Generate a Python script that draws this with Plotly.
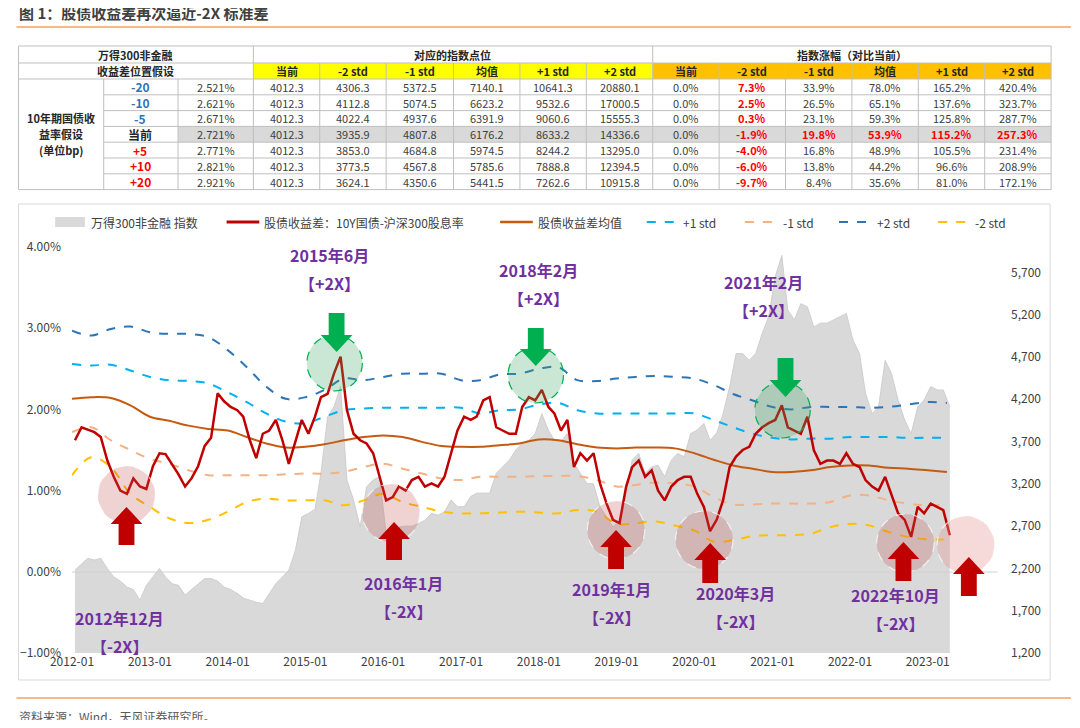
import pandas as pd
import plotly.graph_objects as go

# ---------------- data ----------------
spread = [1.62,1.78,1.75,1.72,1.66,1.37,1.17,1.00,0.96,1.15,1.05,1.02,
          1.30,1.46,1.45,1.33,1.20,1.05,1.15,1.30,1.55,1.65,2.20,2.10,
          2.03,1.99,1.91,1.62,1.40,1.70,1.74,1.87,1.62,1.33,1.62,1.87,
          1.70,1.91,2.15,2.19,2.44,2.65,1.99,1.70,1.62,1.58,1.46,1.17,
          0.88,0.92,1.05,1.00,1.13,1.17,1.05,1.09,1.05,1.17,1.46,1.74,
          1.91,1.87,1.91,2.11,2.15,1.78,1.74,1.70,1.70,2.03,2.15,2.11,
          2.24,2.03,1.95,1.74,1.87,1.29,1.46,1.37,1.46,1.09,0.84,0.64,
          0.60,1.05,1.29,1.37,1.17,1.25,1.00,0.88,1.05,1.13,1.17,1.17,
          0.96,0.80,0.50,0.64,0.88,1.29,1.42,1.50,1.54,1.70,1.78,1.83,
          1.87,2.05,1.78,1.74,1.70,1.91,1.50,1.33,1.37,1.37,1.33,1.46,
          1.33,1.29,1.13,1.05,1.00,1.17,0.96,0.72,0.64,0.43,0.80,0.72,
          0.84,0.80,0.76,0.45]
index_lvl = [2180,2250,2320,2300,2320,2200,2100,2050,1980,1950,1825,2000,
             2100,2200,2100,2020,2000,1885,1950,2020,2080,2080,2050,1980,
             1950,1905,1850,1825,1800,1785,1900,2020,2100,2180,2415,2810,
             2850,2900,3325,3990,4110,4350,3245,3010,2690,3165,3245,3285,
             2615,2455,2690,2700,2700,2730,2770,2850,2830,2870,3010,2930,
             2930,3050,3090,3090,3090,3325,3400,3480,3600,3680,3715,3795,
             4030,3835,3715,3700,3795,3440,3325,3205,3200,2930,2810,2690,
             2770,3085,3480,3560,3325,3400,3420,3285,3480,3560,3520,3795,
             3835,3915,3715,3800,4030,4350,4740,4740,4660,4740,4980,5175,
             5650,5900,5255,5140,5330,5295,5055,5100,5100,5140,5175,5215,
             4900,4740,4270,4030,4110,4660,4505,4190,3955,3795,4110,4190,
             4350,4310,4310,4110]
mean_q = [2.13,2.15,2.14,2.05, 1.91,1.86,1.80,1.76, 1.74,1.66,1.58,1.53,
          1.54,1.57,1.62,1.66, 1.68,1.66,1.60,1.55, 1.54,1.54,1.56,1.58,
          1.63,1.62,1.57,1.53, 1.52,1.53,1.53,1.52, 1.46,1.38,1.31,1.27,
          1.23,1.23,1.25,1.29, 1.31,1.31,1.28,1.27, 1.25,1.23]
p2_q = [2.97,2.91,2.99,3.02, 2.95,2.93,2.93,2.89, 2.73,2.52,2.28,2.13,
        2.15,2.24,2.38,2.36, 2.40,2.44,2.44,2.44, 2.36,2.36,2.43,2.44,
        2.50,2.52,2.36,2.35, 2.38,2.40,2.41,2.40, 2.38,2.30,2.19,2.11,
        2.03,2.00,2.03,2.03, 2.03,2.02,2.03,2.06, 2.09,2.08]
p1_q = [2.56,2.54,2.55,2.48, 2.40,2.36,2.35,2.32, 2.21,2.09,1.95,1.85,
        1.83,1.91,1.99,2.01, 2.02,2.02,2.02,2.02, 2.02,1.95,1.99,2.00,
        2.06,2.08,1.99,1.95, 1.95,1.95,1.95,1.95, 1.95,1.87,1.78,1.70,
        1.65,1.63,1.64,1.64, 1.66,1.66,1.66,1.65, 1.65,1.65]
m1_q = [1.72,1.78,1.62,1.50, 1.39,1.33,1.25,1.19, 1.19,1.19,1.19,1.20,
        1.21,1.21,1.23,1.29, 1.33,1.27,1.21,1.15, 1.13,1.17,1.17,1.17,
        1.18,1.18,1.18,1.13, 1.05,1.07,1.10,1.09, 1.05,0.92,0.83,0.83,
        0.84,0.84,0.84,0.86, 0.94,0.94,0.88,0.84, 0.82,0.82]
m2_q = [1.19,1.41,1.29,0.96, 0.80,0.66,0.60,0.64, 0.74,0.86,0.90,0.88,
        0.88,0.88,0.82,0.88, 0.96,0.86,0.80,0.74, 0.72,0.72,0.73,0.74,
        0.73,0.72,0.76,0.74, 0.59,0.60,0.62,0.57, 0.51,0.37,0.39,0.44,
        0.45,0.45,0.47,0.55, 0.59,0.57,0.49,0.43, 0.40,0.40]

months = pd.date_range("2012-01-01", periods=len(spread), freq="MS") + pd.Timedelta(days=14)
quarters = pd.date_range("2012-01-01", periods=len(mean_q), freq="QS")

# table data
bp_labels = ["-20", "-10", "-5", "当前", "+5", "+10", "+20"]
yields = ["2.521%", "2.621%", "2.671%", "2.721%", "2.771%", "2.821%", "2.921%"]
col_heads = ["当前", "-2 std", "-1 std", "均值", "+1 std", "+2 std"]
lvl_cur = ["4012.3"] * 7
lvl_m2 = ["4306.3", "4112.8", "4022.4", "3935.9", "3853.0", "3773.5", "3624.1"]
lvl_m1 = ["5372.5", "5074.5", "4937.6", "4807.8", "4684.8", "4567.8", "4350.6"]
lvl_mean = ["7140.1", "6623.2", "6391.9", "6176.2", "5974.5", "5785.6", "5441.5"]
lvl_p1 = ["10641.3", "9532.6", "9060.6", "8633.2", "8244.2", "7888.8", "7262.6"]
lvl_p2 = ["20880.1", "17000.5", "15555.3", "14336.6", "13295.0", "12394.5", "10915.8"]
chg_cur = ["0.0%"] * 7
chg_m2 = ["7.3%", "2.5%", "0.3%", "-1.9%", "-4.0%", "-6.0%", "-9.7%"]
chg_m1 = ["33.9%", "26.5%", "23.1%", "19.8%", "16.8%", "13.8%", "8.4%"]
chg_mean = ["78.0%", "65.1%", "59.3%", "53.9%", "48.9%", "44.2%", "35.6%"]
chg_p1 = ["165.2%", "137.6%", "125.8%", "115.2%", "105.5%", "96.6%", "81.0%"]
chg_p2 = ["420.4%", "323.7%", "287.7%", "257.3%", "231.4%", "208.9%", "172.1%"]

# ---------------- layout helpers ----------------
OFF = 8                      # page body margin
W, H = 1064, 712
L, R, T, B = 56, 944, 239, 645   # plot area in figure pixels
def px(x): return (x - OFF - L) / (R - L)   # x given in page pixels
def py(y): return (B - (y - OFF)) / (B - T)

FONT = "Noto Sans CJK SC, sans-serif"
GREY_TXT = "#404040"
fig = go.Figure()

fig.add_trace(go.Scatter(x=months, y=index_lvl, yaxis="y", mode="lines",
                         line=dict(color="#c8c8c8", width=0.8), fill="tozeroy",
                         fillcolor="#d9d9d9", hoverinfo="skip"))
bands = [(p2_q, "#2e75b6"), (p1_q, "#00b0f0"), (m1_q, "#f4b183"), (m2_q, "#ffc000")]
for vals, col in bands:
    fig.add_trace(go.Scatter(x=quarters, y=vals, yaxis="y2", mode="lines", line_shape="spline",
                             line=dict(color=col, width=2, dash="dash")))
fig.add_trace(go.Scatter(x=quarters, y=mean_q, yaxis="y2", mode="lines", line_shape="spline",
                         line=dict(color="#c55a11", width=2)))
fig.add_trace(go.Scatter(x=months, y=spread, yaxis="y2", mode="lines",
                         line=dict(color="#c00000", width=2.5)))

shapes, anns = [], []
def line(x0, y0, x1, y1, color, width=1, dash=None):
    shapes.append(dict(type="line", xref="paper", yref="paper", x0=px(x0), x1=px(x1),
                       y0=py(y0), y1=py(y1), line=dict(color=color, width=width, dash=dash)))
def rect(x0, y0, x1, y1, fill, lc=None, lw=0, layer="above"):
    shapes.append(dict(type="rect", xref="paper", yref="paper", x0=px(x0), x1=px(x1),
                       y0=py(y0), y1=py(y1), fillcolor=fill, layer=layer,
                       line=dict(color=lc or "rgba(0,0,0,0)", width=lw)))
def text(x, y, s, size=11, color=GREY_TXT, bold=False, xanchor="center"):
    if bold:
        s = "<b>" + s + "</b>"
    anns.append(dict(xref="paper", yref="paper", x=px(x), y=py(y), text=s, showarrow=False,
                     xanchor=xanchor, yanchor="middle", font=dict(size=size, color=color, family=FONT)))

# title and frame
text(8, 13, "图 1：股债收益差再次逼近-2X 标准差", size=15, color="#404040", bold=True, xanchor="left")
line(OFF, 27, W + OFF, 27, "#f4a261", 1.5)
line(OFF, 698, W + OFF, 698, "#f4a261", 1.5)
text(8, 716, "资料来源：Wind，天风证券研究所。", size=12, color="#595959", xanchor="left")
rect(10, 204, 1051, 680, "rgba(0,0,0,0)", "#d9d9d9", 1, layer="below")

# ---------------- table ----------------
cols = [10, 96, 171, 247, 314, 381, 449, 516, 583, 650, 717, 784, 851, 918, 985, 1052]
r0, r1, r2 = 46, 63, 79
rh = 15.8
rows = [r2 + i * rh for i in range(8)]
rect(247, r1, 650, r2, "#ffff00")
rect(650, r1, 1052, r2, "#ffc000")
rect(171, rows[3], 1052, rows[4], "#d9d9d9")
bc = "#bfbfbf"
line(10, r0, 1052, r0, bc); line(10, r1, 1052, r1, bc); line(10, r2, 1052, r2, bc)
for i in range(1, 8):
    line(96 if i < 7 else 10, rows[i], 1052, rows[i], bc)
for c in [10, 247, 650, 1052]:
    line(c, r0, c, rows[7], bc)
for c in [96, 171]:
    line(c, r2, c, rows[7], bc)
for c in cols[4:-1]:
    if c != 650:
        line(c, r1, c, rows[7], bc)
text(128, (r0 + r1) / 2, "万得300非金融", bold=True, color="#262626")
text(128, (r1 + r2) / 2, "收益差位置假设", bold=True, color="#262626")
text(448, (r0 + r1) / 2, "对应的指数点位", bold=True, color="#262626")
text(851, (r0 + r1) / 2, "指数涨幅（对比当前）", bold=True, color="#262626")
for j, h in enumerate(col_heads * 2):
    cx = (cols[3 + j] + cols[4 + j]) / 2
    text(cx, (r1 + r2) / 2, h, bold=True, color="#262626", size=11)
mid = (rows[0] + rows[7]) / 2
text(53, mid - 16, "10年期国债收", bold=True, color="#262626")
text(53, mid, "益率假设", bold=True, color="#262626")
text(53, mid + 16, "(单位bp)", bold=True, color="#262626")
lvl_cols = [lvl_cur, lvl_m2, lvl_m1, lvl_mean, lvl_p1, lvl_p2]
chg_cols = [chg_cur, chg_m2, chg_m1, chg_mean, chg_p1, chg_p2]
for i in range(7):
    cy = (rows[i] + rows[i + 1]) / 2
    lab = bp_labels[i]
    lc = "#2e75b6" if lab.startswith("-") else ("#ff0000" if lab.startswith("+") else "#262626")
    text(133, cy, lab, bold=True, color=lc, size=12)
    text(209, cy, yields[i])
    for j, colv in enumerate(lvl_cols):
        text((cols[3 + j] + cols[4 + j]) / 2, cy, colv[i])
    for j, colv in enumerate(chg_cols):
        red = (j == 1) or (i == 3 and j >= 1)
        text((cols[9 + j] + cols[10 + j]) / 2, cy, colv[i],
             bold=red, color="#ff0000" if red else GREY_TXT)

# ---------------- legend ----------------
ly = 222
rect(47, ly - 5, 77, ly + 5, "#d9d9d9")
text(81, ly, "万得300非金融 指数", size=12, xanchor="left")
leg = [(220, 253, "#c00000", None, 3, "股债收益差：10Y国债-沪深300股息率"),
       (496, 529, "#c55a11", None, 2.5, "股债收益差均值"),
       (644, 676, "#00b0f0", "dash", 2, "+1 std"),
       (743, 776, "#f4b183", "dash", 2, "-1 std"),
       (838, 871, "#2e75b6", "dash", 2, "+2 std"),
       (938, 970, "#ffc000", "dash", 2, "-2 std")]
for x0, x1, c, d, w, s in leg:
    line(x0, ly, x1, ly, c, w, d)
    text(x1 + 3, ly, s, size=12, xanchor="left")

# zero line
line(64, 572, 998, 572, "#d0d0d0", 1)

# ---------------- annotations: circles, arrows, labels ----------------
def circle(cx, cy, r, fill, lc, dash):
    shapes.append(dict(type="circle", xref="paper", yref="paper", x0=px(cx - r), x1=px(cx + r),
                       y0=py(cy + r), y1=py(cy - r), fillcolor=fill,
                       line=dict(color=lc, width=1.2, dash=dash)))
def arrow(cx, top, bot, up, color):
    hw, sw, hh = 16, 8, 17
    if up:
        pts = [(cx, top), (cx + hw, top + hh), (cx + sw, top + hh), (cx + sw, bot),
               (cx - sw, bot), (cx - sw, top + hh), (cx - hw, top + hh)]
    else:
        pts = [(cx, bot), (cx + hw, bot - hh), (cx + sw, bot - hh), (cx + sw, top),
               (cx - sw, top), (cx - sw, bot - hh), (cx - hw, bot - hh)]
    p = "M " + " L ".join(f"{px(a):.5f},{py(b):.5f}" for a, b in pts) + " Z"
    shapes.append(dict(type="path", xref="paper", yref="paper", path=p, fillcolor=color,
                       line=dict(width=0)))

for cx, cy in [(329, 363), (532, 375), (781, 410)]:
    circle(cx, cy, 28, "rgba(60,170,100,0.28)", "#00b050", "dash")
for cx, cy in [(119, 495), (386, 513), (613, 530), (702, 540), (905, 543)]:
    circle(cx, cy, 29, "rgba(192,80,80,0.25)", "rgba(255,255,255,0.7)", "dash")
circle(966, 545, 29, "rgba(230,150,150,0.35)", "rgba(255,255,255,0.7)", "dash")
for cx, top, bot in [(331, 313, 352), (532, 328, 366), (784, 358, 397)]:
    arrow(cx, top, bot, False, "#00b050")
for cx, top, bot in [(119, 507, 545), (389, 522, 560), (613, 530, 569),
                     (708, 543, 583), (903, 542, 581), (969, 557, 596)]:
    arrow(cx, top, bot, True, "#c00000")

PURPLE = "#7030a0"
for cx, y, s in [(324, 255, "2015年6月"), (535, 270, "2018年2月"), (762, 282, "2021年2月"),
                 (112, 618, "2012年12月"), (399, 583, "2016年1月"), (608, 589, "2019年1月"),
                 (734, 593, "2020年3月"), (895, 595, "2022年10月")]:
    text(cx, y, s, size=16, color=PURPLE, bold=True)
    tag = "【+2X】" if s in ("2015年6月", "2018年2月", "2021年2月") else "【-2X】"
    text(cx, y + 28, tag, size=16, color=PURPLE, bold=True)

fig.update_layout(
    width=W, height=H, autosize=False,
    margin=dict(l=L, r=W - R, t=T, b=H - B),
    paper_bgcolor="white", plot_bgcolor="rgba(0,0,0,0)",
    showlegend=False, font=dict(family=FONT, color=GREY_TXT, size=12),
    xaxis=dict(type="date", range=["2012-01-01", "2023-04-25"], tickformat="%Y-%m",
               dtick="M12", tick0="2012-01-01", showgrid=False, zeroline=False,
               ticks="", tickfont=dict(size=12, color=GREY_TXT)),
    yaxis=dict(side="right", range=[1200, 6000], tickvals=[1200, 1700, 2200, 2700, 3200, 3700, 4200, 4700, 5200, 5700],
               tickformat=",", showgrid=False, zeroline=False, ticklabelstandoff=58,
               tickfont=dict(size=12, color=GREY_TXT)),
    yaxis2=dict(side="left", overlaying="y", range=[-1, 4], dtick=1, tickformat=".2f",
                ticksuffix="%", showgrid=False, zeroline=False, ticklabelstandoff=10,
                tickfont=dict(size=12, color=GREY_TXT)),
    shapes=shapes, annotations=anns,
)
fig.write_html("out.html")
